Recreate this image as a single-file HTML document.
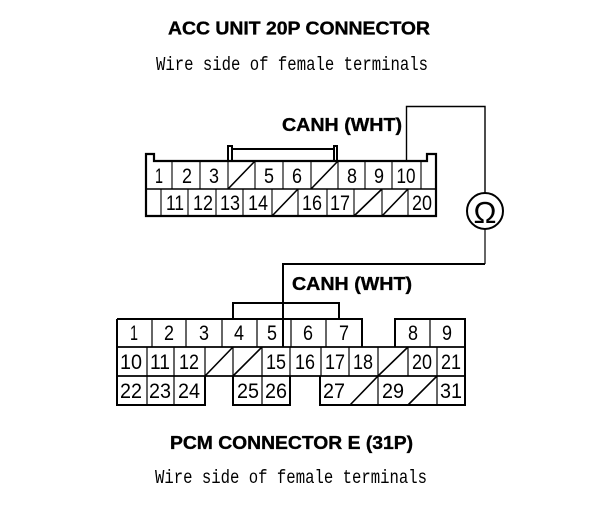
<!DOCTYPE html>
<html>
<head>
<meta charset="utf-8">
<style>
html,body{margin:0;padding:0;background:#fff;width:608px;height:512px;overflow:hidden}
svg{display:block}
.n{font:21px "Liberation Sans",sans-serif;text-anchor:middle;fill:#000}
.b{font:bold 18px "Liberation Sans",sans-serif;fill:#000;stroke:#000;stroke-width:.35}
.m{font:19px "Liberation Mono",monospace;fill:#000}
</style>
</head>
<body>
<svg width="608" height="512" viewBox="0 0 608 512" xmlns="http://www.w3.org/2000/svg">
<text class="b" x="168" y="34.5" textLength="262" lengthAdjust="spacingAndGlyphs">ACC UNIT 20P CONNECTOR</text>
<text class="m" x="156" y="70" textLength="272" lengthAdjust="spacingAndGlyphs">Wire side of female terminals</text>
<text class="b" x="282" y="131" textLength="120" lengthAdjust="spacingAndGlyphs">CANH (WHT)</text>
<text class="b" x="292" y="290" textLength="120" lengthAdjust="spacingAndGlyphs">CANH (WHT)</text>
<text class="b" x="170" y="449" textLength="243" lengthAdjust="spacingAndGlyphs">PCM CONNECTOR E (31P)</text>
<text class="m" x="155" y="483" textLength="272" lengthAdjust="spacingAndGlyphs">Wire side of female terminals</text>

<!-- top connector -->
<g fill="none" stroke="#000" stroke-width="2">
<path d="M146 216V154H154V161H427V154H436V216H146Z" stroke-width="2.2"/>
<path d="M146 189H436" stroke-width="1.5"/>
<path d="M228 161V146H232V161M232 149H334M334 161V146H337V161" stroke-width="2"/>
</g>
<g stroke="#000" stroke-width="1.1" fill="none">
<path d="M172 161V189M200 161V189M283 161V189M365 161V189M392 161V189M421 161V189"/>
<path d="M161 189V216M188 189V216M216 189V216M243 189V216M298 189V216M327 189V216"/>
<path d="M228 161V189M255 161V189M311 161V189M338 161V189M272 189V216M354 189V216M382 189V216M408 189V216"/>
<path d="M228 189L255 161M311 189L338 161M272 216L298 189M354 216L382 189M382 216L408 189" stroke-width="1.6"/>
</g>
<g>
<text class="n" x="159" y="183" textLength="8" lengthAdjust="spacingAndGlyphs">1</text><text class="n" x="187" y="183" textLength="10" lengthAdjust="spacingAndGlyphs">2</text><text class="n" x="214" y="183" textLength="10" lengthAdjust="spacingAndGlyphs">3</text>
<text class="n" x="269" y="183" textLength="10" lengthAdjust="spacingAndGlyphs">5</text><text class="n" x="297" y="183" textLength="10" lengthAdjust="spacingAndGlyphs">6</text><text class="n" x="352" y="183" textLength="10" lengthAdjust="spacingAndGlyphs">8</text>
<text class="n" x="379" y="183" textLength="10" lengthAdjust="spacingAndGlyphs">9</text><text class="n" x="406" y="183" textLength="19" lengthAdjust="spacingAndGlyphs">10</text>
<text class="n" x="175" y="210" textLength="18" lengthAdjust="spacingAndGlyphs">11</text><text class="n" x="203" y="210" textLength="20" lengthAdjust="spacingAndGlyphs">12</text><text class="n" x="230" y="210" textLength="20" lengthAdjust="spacingAndGlyphs">13</text>
<text class="n" x="258" y="210" textLength="20" lengthAdjust="spacingAndGlyphs">14</text><text class="n" x="312" y="210" textLength="20" lengthAdjust="spacingAndGlyphs">16</text><text class="n" x="340" y="210" textLength="20" lengthAdjust="spacingAndGlyphs">17</text>
<text class="n" x="422" y="210" textLength="20" lengthAdjust="spacingAndGlyphs">20</text>
</g>

<!-- wire and meter -->
<g fill="none" stroke="#000">
<path d="M406.5 161V106.5H485V193" stroke-width="1.4"/>
<circle cx="485" cy="211" r="18" stroke-width="2"/>
<path d="M485 229V264" stroke-width="1.2"/>
<path d="M485 264H283V347" stroke-width="2"/>
<path d="M233 319V303H339V319" stroke-width="2"/>
</g>
<text x="485" y="223" textLength="23" lengthAdjust="spacingAndGlyphs" style="font:31px 'Liberation Sans',sans-serif;text-anchor:middle;fill:#000">Ω</text>

<!-- bottom connector -->
<g fill="none" stroke="#000" stroke-width="2">
<path d="M117 319H362V347M395 347V319H465V405H320V376M290 376V405H233V376M205 376V405H117V319"/>
<path d="M117 347H465M117 376H465" stroke-width="1.8"/>
</g>
<g stroke="#000" stroke-width="1.2" fill="none">
<path d="M152 319V347M186 319V347M222 319V347M257 319V347M291 319V347M326 319V347M430 319V347"/>
<path d="M147 347V405M174 347V405M205 347V376M233 347V376M262 347V405M290 347V376M321 347V376M349 347V376M378 347V405M408 347V376M437 347V405"/>
<path d="M205 376L233 347M233 376L262 347M378 376L408 347M350 405L378 376M408 405L437 376" stroke-width="1.6"/>
</g>
<text class="n" x="134" y="340" textLength="8" lengthAdjust="spacingAndGlyphs">1</text><text class="n" x="169" y="340" textLength="10" lengthAdjust="spacingAndGlyphs">2</text><text class="n" x="204" y="340" textLength="10" lengthAdjust="spacingAndGlyphs">3</text>
<text class="n" x="239" y="340" textLength="10" lengthAdjust="spacingAndGlyphs">4</text><text class="n" x="272" y="340" textLength="10" lengthAdjust="spacingAndGlyphs">5</text><text class="n" x="308" y="340" textLength="10" lengthAdjust="spacingAndGlyphs">6</text>
<text class="n" x="344" y="340" textLength="10" lengthAdjust="spacingAndGlyphs">7</text><text class="n" x="413" y="340" textLength="10" lengthAdjust="spacingAndGlyphs">8</text><text class="n" x="447" y="340" textLength="10" lengthAdjust="spacingAndGlyphs">9</text>
<text class="n" x="131" y="369" textLength="22" lengthAdjust="spacingAndGlyphs">10</text><text class="n" x="160" y="369" textLength="20" lengthAdjust="spacingAndGlyphs">11</text><text class="n" x="189" y="369" textLength="20" lengthAdjust="spacingAndGlyphs">12</text>
<text class="n" x="276" y="369" textLength="20" lengthAdjust="spacingAndGlyphs">15</text><text class="n" x="305" y="369" textLength="20" lengthAdjust="spacingAndGlyphs">16</text><text class="n" x="335" y="369" textLength="20" lengthAdjust="spacingAndGlyphs">17</text>
<text class="n" x="363" y="369" textLength="20" lengthAdjust="spacingAndGlyphs">18</text><text class="n" x="422" y="369" textLength="20" lengthAdjust="spacingAndGlyphs">20</text><text class="n" x="451" y="369" textLength="20" lengthAdjust="spacingAndGlyphs">21</text>
<text class="n" x="131" y="398" textLength="22" lengthAdjust="spacingAndGlyphs">22</text><text class="n" x="160" y="398" textLength="22" lengthAdjust="spacingAndGlyphs">23</text><text class="n" x="189" y="398" textLength="22" lengthAdjust="spacingAndGlyphs">24</text>
<text class="n" x="248" y="398" textLength="22" lengthAdjust="spacingAndGlyphs">25</text><text class="n" x="276" y="398" textLength="22" lengthAdjust="spacingAndGlyphs">26</text><text class="n" x="334" y="398" textLength="22" lengthAdjust="spacingAndGlyphs">27</text>
<text class="n" x="393" y="398" textLength="22" lengthAdjust="spacingAndGlyphs">29</text><text class="n" x="451" y="398" textLength="22" lengthAdjust="spacingAndGlyphs">31</text>
</svg>
</body>
</html>
